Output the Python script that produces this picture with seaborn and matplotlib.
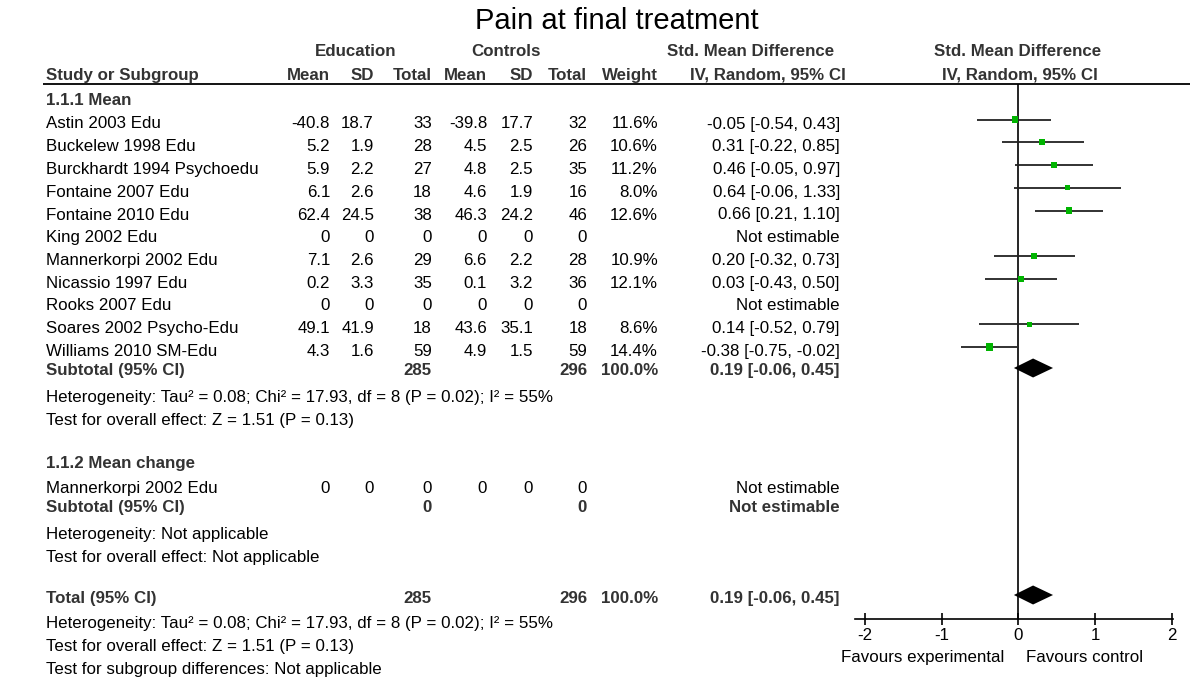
import numpy as np
import pandas as pd
import matplotlib
matplotlib.use("Agg")
import matplotlib.pyplot as plt
import seaborn as sns

# ---- data ----
studies = ["Astin 2003 Edu", "Buckelew 1998 Edu", "Burckhardt 1994 Psychoedu",
           "Fontaine 2007 Edu", "Fontaine 2010 Edu", "King 2002 Edu",
           "Mannerkorpi 2002 Edu", "Nicassio 1997 Edu", "Rooks 2007 Edu",
           "Soares 2002 Psycho-Edu", "Williams 2010 SM-Edu"]
edu_mean = [-40.8, 5.2, 5.9, 6.1, 62.4, 0, 7.1, 0.2, 0, 49.1, 4.3]
edu_sd = [18.7, 1.9, 2.2, 2.6, 24.5, 0, 2.6, 3.3, 0, 41.9, 1.6]
edu_n = [33, 28, 27, 18, 38, 0, 29, 35, 0, 18, 59]
ctl_mean = [-39.8, 4.5, 4.8, 4.6, 46.3, 0, 6.6, 0.1, 0, 43.6, 4.9]
ctl_sd = [17.7, 2.5, 2.5, 1.9, 24.2, 0, 2.2, 3.2, 0, 35.1, 1.5]
ctl_n = [32, 26, 35, 16, 46, 0, 28, 36, 0, 18, 59]
weight = [11.6, 10.6, 11.2, 8.0, 12.6, np.nan, 10.9, 12.1, np.nan, 8.6, 14.4]
smd = [-0.05, 0.31, 0.46, 0.64, 0.66, np.nan, 0.20, 0.03, np.nan, 0.14, -0.38]
ci_lo = [-0.54, -0.22, -0.05, -0.06, 0.21, np.nan, -0.32, -0.43, np.nan, -0.52, -0.75]
ci_hi = [0.43, 0.85, 0.97, 1.33, 1.10, np.nan, 0.73, 0.50, np.nan, 0.79, -0.02]

pooled = [0.19, -0.06, 0.45]   # estimate, lower, upper
total_edu = 285
total_ctl = 296

change_study = "Mannerkorpi 2002 Edu"
change_values = [0, 0, 0, 0, 0, 0]

het_text = "Heterogeneity: Tau\u00b2 = 0.08; Chi\u00b2 = 17.93, df = 8 (P = 0.02); I\u00b2 = 55%"
effect_text = "Test for overall effect: Z = 1.51 (P = 0.13)"
ticks = [-2, -1, 0, 1, 2]

GREEN = "#00b400"
BOLD = "#333333"


def fmt(v):
    return f"{v:g}"


def ci_text(e, lo, hi):
    return f"{e:.2f} [{lo:.2f}, {hi:.2f}]"


def main():
    sns.set_theme(style="white")
    plt.rcParams["font.family"] = ["Liberation Sans", "DejaVu Sans"]
    plt.rcParams["axes.unicode_minus"] = False

    fig = plt.figure(figsize=(11.9, 6.8), dpi=100)

    # text layer in pixel units
    bg = fig.add_axes([0, 0, 1, 1])
    bg.set_xlim(0, 1190)
    bg.set_ylim(680, 0)
    bg.axis("off")

    fs = 12.2
    cols = [330, 374, 432, 487, 533, 587]   # right edges of the numeric columns
    x_w = 658
    x_ci = 840

    def t(x, y, s, ha="left", bold=False, size=fs):
        bg.text(x, y, s, ha=ha, va="center_baseline", fontsize=size,
                fontweight="bold" if bold else "normal",
                color=BOLD if bold else "black")

    t(617, 18, "Pain at final treatment", ha="center", size=21)

    # header
    t(356, 50, "Education", ha="center", bold=True)
    t(506, 50, "Controls", ha="center", bold=True)
    t(751, 50, "Std. Mean Difference", ha="center", bold=True)
    t(1018, 50, "Std. Mean Difference", ha="center", bold=True)
    t(46, 74, "Study or Subgroup", bold=True)
    for x, s in zip(cols, ["Mean", "SD", "Total", "Mean", "SD", "Total"]):
        t(x, 74, s, ha="right", bold=True)
    t(x_w, 74, "Weight", ha="right", bold=True)
    t(846, 74, "IV, Random, 95% CI", ha="right", bold=True)
    t(1020, 74, "IV, Random, 95% CI", ha="center", bold=True)
    bg.hlines(84, 43, 1190, color="black", lw=1.3)

    # subgroup 1.1.1
    t(46, 99, "1.1.1 Mean", bold=True)
    row_y = [122.5 + 22.75 * i for i in range(len(studies))]
    for i, name in enumerate(studies):
        y = row_y[i]
        t(46, y, name)
        vals = [edu_mean[i], edu_sd[i], edu_n[i], ctl_mean[i], ctl_sd[i], ctl_n[i]]
        for x, v in zip(cols, vals):
            t(x, y, fmt(v), ha="right")
        if np.isnan(smd[i]):
            t(x_ci, y, "Not estimable", ha="right")
        else:
            t(x_w, y, f"{weight[i]:.1f}%", ha="right")
            t(x_ci, y, ci_text(smd[i], ci_lo[i], ci_hi[i]), ha="right")

    y_sub1 = 369
    t(46, y_sub1, "Subtotal (95% CI)", bold=True)
    t(cols[2], y_sub1, str(total_edu), ha="right", bold=True)
    t(cols[5], y_sub1, str(total_ctl), ha="right", bold=True)
    t(x_w, y_sub1, "100.0%", ha="right", bold=True)
    t(x_ci, y_sub1, ci_text(*pooled), ha="right", bold=True)
    t(46, 396, het_text)
    t(46, 419, effect_text)

    # subgroup 1.1.2
    t(46, 462, "1.1.2 Mean change", bold=True)
    t(46, 487, change_study)
    for x, v in zip(cols, change_values):
        t(x, 487, fmt(v), ha="right")
    t(x_ci, 487, "Not estimable", ha="right")
    t(46, 506, "Subtotal (95% CI)", bold=True)
    t(cols[2], 506, "0", ha="right", bold=True)
    t(cols[5], 506, "0", ha="right", bold=True)
    t(x_ci, 506, "Not estimable", ha="right", bold=True)
    t(46, 533, "Heterogeneity: Not applicable")
    t(46, 556, "Test for overall effect: Not applicable")

    # overall
    y_tot = 597
    t(46, y_tot, "Total (95% CI)", bold=True)
    t(cols[2], y_tot, str(total_edu), ha="right", bold=True)
    t(cols[5], y_tot, str(total_ctl), ha="right", bold=True)
    t(x_w, y_tot, "100.0%", ha="right", bold=True)
    t(x_ci, y_tot, ci_text(*pooled), ha="right", bold=True)
    t(46, 622, het_text)
    t(46, 645, effect_text)
    t(46, 668, "Test for subgroup differences: Not applicable")

    # ---- forest panel ----
    ax_top, ax_bot = 84, 619
    ax = fig.add_axes([855 / 1190, (680 - ax_bot) / 680,
                       318 / 1190, (ax_bot - ax_top) / 680])
    ax.set_facecolor("none")
    ax.set_xlim(-2.13, 2.013)
    ax.set_ylim(ax_bot, ax_top)

    df = pd.DataFrame({"study": studies, "smd": smd, "lo": ci_lo, "hi": ci_hi,
                       "weight": weight, "y": [y - 3 for y in row_y]}).dropna()

    ax.axvline(0, color="black", lw=1.2, zorder=1)
    ax.hlines(df["y"], df["lo"], df["hi"], color="#222222", lw=1.3, zorder=2)
    sns.scatterplot(data=df, x="smd", y="y", size="weight", sizes=(11, 26),
                    size_norm=(8.0, 14.4), marker="s", color=GREEN,
                    edgecolor="none", linewidth=0, legend=False, zorder=3, ax=ax)

    for yd in [y_sub1 - 1, y_tot - 2]:
        est, lo, hi = pooled
        ax.fill([lo, est, hi, est], [yd, yd - 9.5, yd, yd + 9.5],
                color="black", lw=0, zorder=4)

    ax.set_xticks(ticks)
    ax.set_xticklabels([str(v) for v in ticks], fontsize=fs, color="black")
    ax.set_yticks([])
    ax.set_xlabel("")
    ax.set_ylabel("")
    for side in ["top", "right", "left"]:
        ax.spines[side].set_visible(False)
    ax.spines["bottom"].set_color("black")
    ax.spines["bottom"].set_linewidth(1.2)
    ax.tick_params(axis="x", direction="inout", length=9, width=1.2,
                   color="black", pad=2, bottom=True)

    t(923, 656, "Favours experimental", ha="center")
    t(1084, 656, "Favours control", ha="center")

    fig.savefig("out.png", dpi=100)
    plt.close(fig)


if __name__ == "__main__":
    main()
